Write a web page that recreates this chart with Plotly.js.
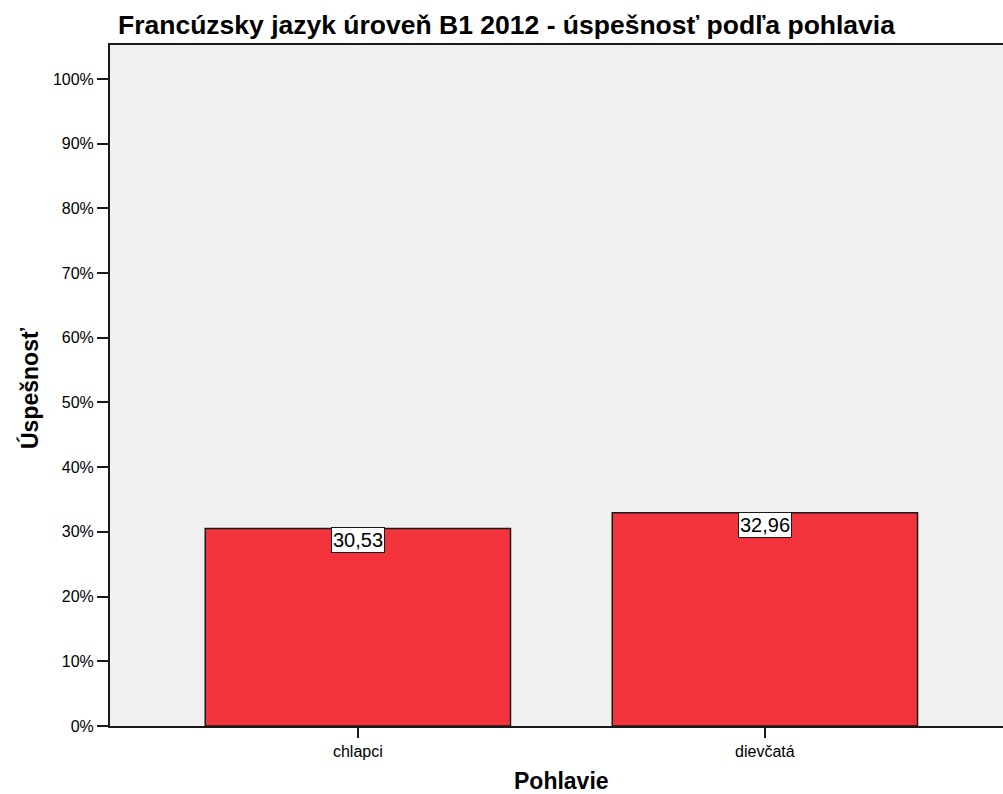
<!DOCTYPE html>
<html>
<head>
<meta charset="utf-8">
<script src="https://cdn.plot.ly/plotly-3.0.1.min.js"></script>
<style>
  html, body { margin: 0; padding: 0; background: #ffffff; }
  #chart { width: 1003px; height: 794px; }
</style>
</head>
<body>
<div id="chart"></div>
<script>
// Francúzsky jazyk B1 2012 – priemerná úspešnosť podľa pohlavia
const categories = ['chlapci', 'dievčatá'];
const successValues = [30.53, 32.96];
const yTickValues = [0, 10, 20, 30, 40, 50, 60, 70, 80, 90, 100];
const yTickLabels = ['0%', '10%', '20%', '30%', '40%', '50%', '60%', '70%', '80%', '90%', '100%'];

const FONT = 'Liberation Sans, Arial, sans-serif';
const positions = categories.map((_, i) => i);

// plot area geometry in pixels (used for placing the axis titles)
const PLOT_LEFT = 110, PLOT_TOP = 45, PLOT_BOTTOM = 726, PLOT_WIDTH = 893;
const PLOT_HEIGHT = PLOT_BOTTOM - PLOT_TOP;
const px2paperX = px => (px - PLOT_LEFT) / PLOT_WIDTH;
const px2paperY = py => (PLOT_BOTTOM - py) / PLOT_HEIGHT;

const barTrace = {
  type: 'bar',
  x: positions,
  y: successValues,
  width: 0.75,
  marker: { color: '#f2333b', line: { color: '#1a1a1a', width: 1.5 } },
  hoverinfo: 'skip',
  showlegend: false
};

// value labels in white boxes just below the top of each bar
const valueLabels = successValues.map((v, i) => ({
  x: positions[i],
  y: v,
  xref: 'x',
  yref: 'y',
  text: v.toFixed(2).replace('.', ','),
  showarrow: false,
  xanchor: 'center',
  yanchor: 'top',
  yshift: 1,
  bgcolor: '#ffffff',
  bordercolor: '#1a1a1a',
  borderwidth: 1,
  borderpad: 1,
  font: { family: FONT, size: 20, color: '#000000' }
}));

const layout = {
  width: 1003,
  height: 794,
  margin: { l: PLOT_LEFT, r: 0, t: PLOT_TOP, b: 794 - PLOT_BOTTOM },
  paper_bgcolor: '#ffffff',
  plot_bgcolor: '#f0f0f0',
  font: { family: FONT, color: '#000000' },
  title: {
    text: '<b>Francúzsky jazyk úroveň B1 2012 - úspešnosť podľa pohlavia</b>',
    font: { family: FONT, size: 26.5, color: '#000000' },
    xref: 'container', yref: 'container',
    x: 118 / 1003, xanchor: 'left',
    y: 1 - 25 / 794, yanchor: 'middle'
  },
  xaxis: {
    range: [-0.609, 1.585],
    tickmode: 'array',
    tickvals: positions,
    ticktext: categories,
    ticks: 'outside',
    ticklen: 10,
    tickwidth: 1.5,
    tickcolor: '#1a1a1a',
    tickfont: { family: FONT, size: 16, color: '#000000' },
    showline: true,
    linecolor: '#1a1a1a',
    linewidth: 2,
    mirror: true,
    showgrid: false,
    zeroline: false,
    fixedrange: true
  },
  yaxis: {
    range: [0, 105.25],
    tickmode: 'array',
    tickvals: yTickValues,
    ticktext: yTickLabels,
    ticks: 'outside',
    ticklen: 11,
    tickwidth: 2,
    tickcolor: '#1a1a1a',
    tickfont: { family: FONT, size: 16, color: '#000000' },
    showline: true,
    linecolor: '#1a1a1a',
    linewidth: 2,
    showgrid: false,
    zeroline: false,
    fixedrange: true
  },
  annotations: valueLabels.concat([
    {
      text: '<b>Pohlavie</b>',
      xref: 'paper', yref: 'paper',
      x: px2paperX(561), y: px2paperY(781),
      xanchor: 'center', yanchor: 'middle',
      showarrow: false,
      font: { family: FONT, size: 23, color: '#000000' }
    },
    {
      text: '<b>Úspešnosť</b>',
      xref: 'paper', yref: 'paper',
      x: px2paperX(30), y: px2paperY(388),
      xanchor: 'center', yanchor: 'middle',
      textangle: -90,
      showarrow: false,
      font: { family: FONT, size: 23, color: '#000000' }
    }
  ])
};

Plotly.newPlot('chart', [barTrace], layout, { displayModeBar: false, staticPlot: true });
</script>
</body>
</html>
